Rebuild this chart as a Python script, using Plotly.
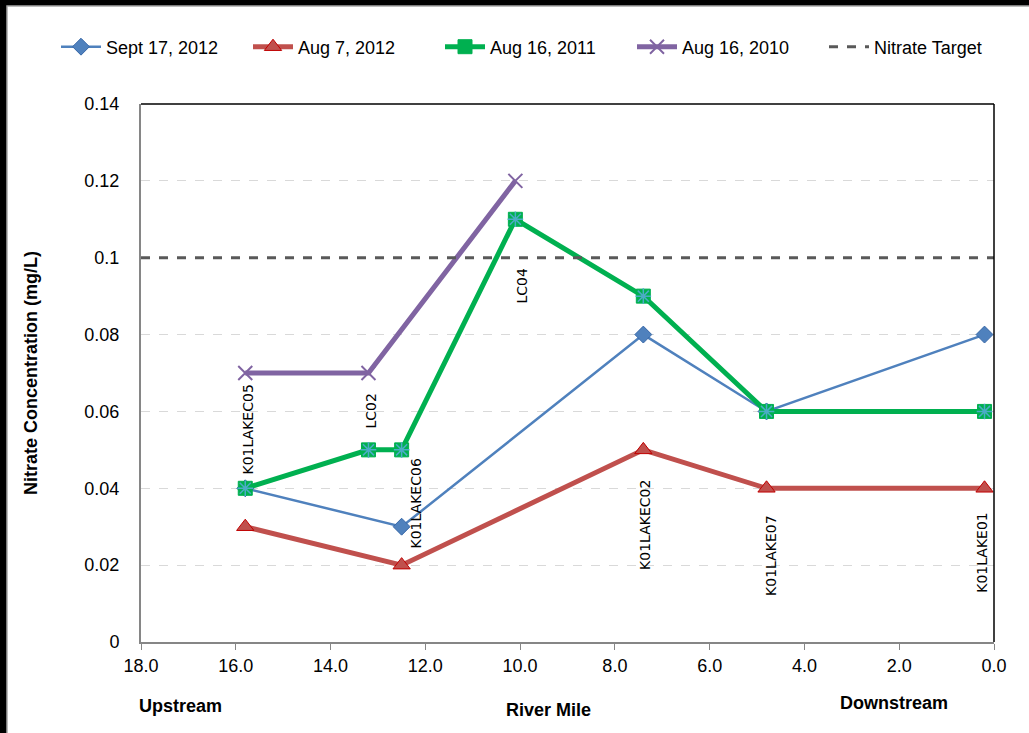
import plotly.graph_objects as go

# River-mile positions of each sampling station
station_names = ["K01LAKEC05", "LC02", "K01LAKEC06", "LC04", "K01LAKEC02", "K01LAKE07", "K01LAKE01"]
station_miles = [15.8, 13.2, 12.5, 10.1, 7.4, 4.8, 0.2]

# Nitrate concentrations (mg/L) per sampling event
sep2012_miles = [15.8, 12.5, 7.4, 4.8, 0.2]
sep2012_vals = [0.04, 0.03, 0.08, 0.06, 0.08]

aug2012_miles = [15.8, 12.5, 7.4, 4.8, 0.2]
aug2012_vals = [0.03, 0.02, 0.05, 0.04, 0.04]

aug2011_miles = [15.8, 13.2, 12.5, 10.1, 7.4, 4.8, 0.2]
aug2011_vals = [0.04, 0.05, 0.05, 0.11, 0.09, 0.06, 0.06]

aug2010_miles = [15.8, 13.2, 10.1]
aug2010_vals = [0.07, 0.07, 0.12]

target_miles = [18.0, 0.0]
target_vals = [0.1, 0.1]

# Station label placement (centre of the rotated label)
label_miles = [15.75, 13.15, 12.2, 9.98, 7.37, 4.71, 0.26]
label_vals = [0.0552, 0.0602, 0.0360, 0.0925, 0.0304, 0.0226, 0.0234]

x_ticks = [0, 2, 4, 6, 8, 10, 12, 14, 16, 18]
y_ticks = [0, 0.02, 0.04, 0.06, 0.08, 0.1, 0.12, 0.14]

W, H = 1029, 733
ML, MR, MT, MB = 141, 35, 104, 91
PW, PH = W - ML - MR, H - MT - MB


def px_x(px):
    return (px - ML) / PW


def px_y(py):
    return (H - MB - py) / PH


FONT = "Liberation Sans, Arial, sans-serif"
FS = 18

fig = go.Figure()

fig.add_trace(go.Scatter(
    x=sep2012_miles, y=sep2012_vals, name="Sept 17, 2012", mode="lines+markers",
    line=dict(color="#4f81bd", width=2.5),
    marker=dict(symbol="diamond", size=13, color="#4f81bd", line=dict(color="#3868a8", width=1)),
))
fig.add_trace(go.Scatter(
    x=aug2012_miles, y=aug2012_vals, name="Aug 7, 2012", mode="lines+markers",
    line=dict(color="#c0504d", width=5),
    marker=dict(symbol="triangle-up", size=15, color="#c0504d", line=dict(color="#c00000", width=1)),
))
fig.add_trace(go.Scatter(
    x=aug2011_miles, y=aug2011_vals, name="Aug 16, 2011", mode="lines+markers",
    legendgroup="a2011",
    line=dict(color="#00b050", width=5),
    marker=dict(symbol="square", size=14, color="#00b050", line=dict(color="#00b050", width=1)),
))
fig.add_trace(go.Scatter(
    x=aug2011_miles, y=aug2011_vals, mode="markers", showlegend=False,
    legendgroup="a2011", hoverinfo="skip",
    marker=dict(symbol="asterisk-open", size=13, color="#4bacc6", line=dict(color="#4bacc6", width=1.5)),
))
fig.add_trace(go.Scatter(
    x=aug2010_miles, y=aug2010_vals, name="Aug 16, 2010", mode="lines+markers",
    line=dict(color="#8064a2", width=5),
    marker=dict(symbol="x-thin-open", size=14, color="#8064a2", line=dict(color="#8064a2", width=2)),
))
fig.add_trace(go.Scatter(
    x=target_miles, y=target_vals, name="Nitrate Target", mode="lines",
    line=dict(color="#595959", width=3, dash="dash"),
))

for name, xm, yv in zip(station_names, label_miles, label_vals):
    fig.add_annotation(
        x=xm, y=yv, text=name, textangle=-90, showarrow=False,
        xanchor="center", yanchor="middle",
        font=dict(family="DejaVu Sans", size=14, color="#000000"),
    )

# Direction hints and axis title under the x axis
for txt, cx, cy in [("Upstream", 180, 706), ("River Mile", 548, 710), ("Downstream", 894, 703)]:
    fig.add_annotation(
        x=px_x(cx), y=px_y(cy), xref="paper", yref="paper", text="<b>" + txt + "</b>",
        showarrow=False, xanchor="center", yanchor="middle",
        font=dict(family=FONT, size=FS, color="#000000"),
    )

# Outer frame: dark backdrop with the white chart area inset
fig.add_shape(type="rect", xref="paper", yref="paper", layer="below",
              x0=px_x(7), x1=px_x(W + 10), y0=px_y(H + 10), y1=px_y(6),
              fillcolor="#ffffff", line=dict(color="#a6a6a6", width=1.5))
# Plot-area border on top and right
fig.add_shape(type="line", xref="paper", yref="paper", x0=0, x1=1, y0=1, y1=1,
              line=dict(color="#000000", width=1.5))
fig.add_shape(type="line", xref="paper", yref="paper", x0=1, x1=1, y0=0, y1=1,
              line=dict(color="#000000", width=1.5))

fig.update_layout(
    width=W, height=H,
    margin=dict(l=ML, r=MR, t=MT, b=MB),
    paper_bgcolor="#000000", plot_bgcolor="#ffffff",
    font=dict(family=FONT, size=FS, color="#000000"),
    showlegend=True,
    legend=dict(orientation="h", x=px_x(56), y=px_y(47), xanchor="left", yanchor="middle",
                font=dict(family=FONT, size=FS, color="#000000"), bgcolor="rgba(0,0,0,0)",
                itemwidth=40, entrywidth=137, entrywidthmode="pixels"),
    xaxis=dict(range=[18, 0], tickvals=x_ticks, tickformat=".1f",
               showgrid=False, zeroline=False, showline=True, linecolor="#868686", linewidth=2,
               ticks="outside", ticklen=6, tickcolor="#868686", tickwidth=1,
               tickfont=dict(family=FONT, size=FS)),
    yaxis=dict(range=[0, 0.14], tickvals=y_ticks, showgrid=True, gridcolor="#d9d9d9",
               griddash="dash", gridwidth=1, zeroline=False, showline=True,
               linecolor="#868686", linewidth=2, ticks="", ticklabelstandoff=16,
               tickfont=dict(family=FONT, size=FS),
               title=dict(text="<b>Nitrate Concentration (mg/L)</b>", standoff=42,
                          font=dict(family=FONT, size=FS))),
)

fig.write_html("out.html")
